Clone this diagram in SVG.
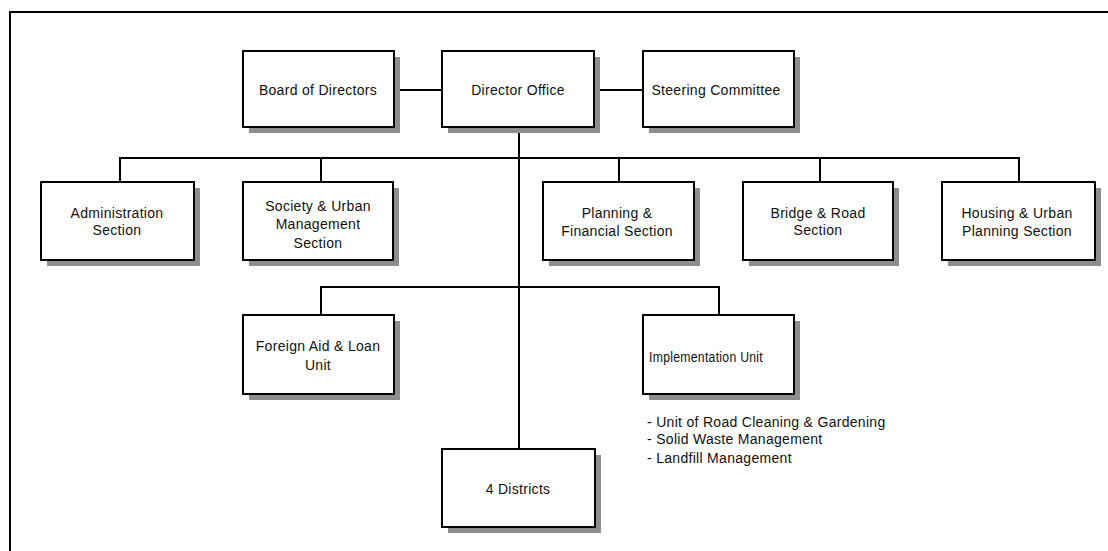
<svg xmlns="http://www.w3.org/2000/svg" width="1108" height="551" viewBox="0 0 1108 551">
<style>
.sh{fill:#8e8e8e}
.bx{fill:#fff;stroke:#000;stroke-width:2}
.ln{fill:none;stroke:#000;stroke-width:2}
text{font-family:"Liberation Sans",Arial,sans-serif;font-size:14px;fill:#111;text-anchor:middle;letter-spacing:0.3px}
.lst{text-anchor:start}
</style>
<rect width="1108" height="551" fill="#fff"/>
<path class="ln" d="M10,551 V12 H1108"/>
<g id="connectors">
<path class="ln" d="M394,90 H442 M594,90 H643"/>
<path class="ln" d="M519,127 V449"/>
<path class="ln" d="M120,182 V158 H1019 V182 M321,158 V182 M619,158 V182 M820,158 V182"/>
<path class="ln" d="M321,315 V287 H719 V315"/>
</g>
<g id="board">
<rect class="sh" x="249" y="57" width="151" height="76"/>
<rect class="bx" x="243" y="51" width="151" height="76"/>
<text x="318" y="95">Board of Directors</text>
</g>
<g id="director">
<rect class="sh" x="448" y="57" width="152" height="76"/>
<rect class="bx" x="442" y="51" width="152" height="76"/>
<text x="518" y="95">Director Office</text>
</g>
<g id="steering">
<rect class="sh" x="649" y="57" width="151" height="76"/>
<rect class="bx" x="643" y="51" width="151" height="76"/>
<text x="716" y="95">Steering Committee</text>
</g>
<g id="admin">
<rect class="sh" x="47" y="188" width="153" height="78"/>
<rect class="bx" x="41" y="182" width="153" height="78"/>
<text x="117" y="218">Administration</text>
<text x="117" y="235">Section</text>
</g>
<g id="society">
<rect class="sh" x="249" y="188" width="150" height="78"/>
<rect class="bx" x="243" y="182" width="150" height="78"/>
<text x="318" y="211">Society &amp; Urban</text>
<text x="318" y="229">Management</text>
<text x="318" y="248">Section</text>
</g>
<g id="planning">
<rect class="sh" x="549" y="188" width="151" height="78"/>
<rect class="bx" x="543" y="182" width="151" height="78"/>
<text x="617" y="218">Planning &amp;</text>
<text x="617" y="236">Financial Section</text>
</g>
<g id="bridge">
<rect class="sh" x="749" y="188" width="150" height="78"/>
<rect class="bx" x="743" y="182" width="150" height="78"/>
<text x="818" y="218">Bridge &amp; Road</text>
<text x="818" y="235">Section</text>
</g>
<g id="housing">
<rect class="sh" x="948" y="188" width="153" height="78"/>
<rect class="bx" x="942" y="182" width="153" height="78"/>
<text x="1017" y="218">Housing &amp; Urban</text>
<text x="1017" y="236">Planning Section</text>
</g>
<g id="foreign">
<rect class="sh" x="249" y="321" width="151" height="79"/>
<rect class="bx" x="243" y="315" width="151" height="79"/>
<text x="318" y="351">Foreign Aid &amp; Loan</text>
<text x="318" y="370">Unit</text>
</g>
<g id="implementation">
<rect class="sh" x="649" y="321" width="151" height="79"/>
<rect class="bx" x="643" y="315" width="151" height="79"/>
<text x="706" y="362" textLength="114" lengthAdjust="spacingAndGlyphs">Implementation Unit</text>
<text class="lst" x="647" y="427">- Unit of Road Cleaning  &amp; Gardening</text>
<text class="lst" x="647" y="444">- Solid Waste Management</text>
<text class="lst" x="647" y="463">- Landfill Management</text>
</g>
<g id="districts">
<rect class="sh" x="448" y="455" width="153" height="78"/>
<rect class="bx" x="442" y="449" width="153" height="78"/>
<text x="518" y="494">4 Districts</text>
</g>
</svg>
